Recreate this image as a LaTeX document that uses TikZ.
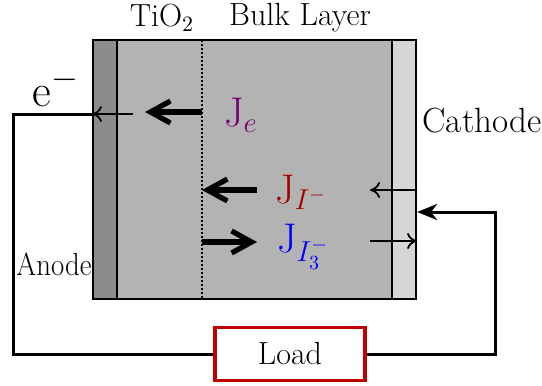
\documentclass[tikz,border=0pt]{standalone}
\usepackage{amsmath}
\usepackage{xcolor}
\usepackage{tikz}
\usetikzlibrary{positioning,arrows.meta}
\definecolor{anodegray}{HTML}{8C8C8C}
\definecolor{bulkgray}{HTML}{B3B3B3}
\definecolor{cathgray}{HTML}{D6D6D6}
\definecolor{loadred}{HTML}{C00000}
\newcommand{\flux}[1]{\mathrm{J}_{#1}}

\begin{document}
\begin{tikzpicture}[x=0.5pt,y=-0.5pt,
  font=\fontsize{16}{19}\selectfont,
  region/.style={draw,line width=1.1pt,inner sep=0pt,minimum height=129.5pt},
  flux/.style={-{Straight Barb[length=10pt,width=11pt]},line width=2.6pt},
  fluxlbl/.style={font=\fontsize{20}{24}\selectfont},
  probe/.style={-{To[length=5pt,width=8pt]},line width=0.9pt},
  wire/.style={line width=1.5pt},
  loadbox/.style={draw=loadred,line width=1.9pt,minimum width=75pt,
                  minimum height=26.5pt,inner sep=0pt}]
\useasboundingbox (0,0) rectangle (542,386);
% cell layers
\node[region,fill=bulkgray,minimum width=137.5pt] (bulk) at (254.5,169.5) {};
\node[region,fill=anodegray,minimum width=12pt] (anode) at (105,169.5) {};
\node[region,fill=cathgray,minimum width=12pt] (cathode) at (404,169.5) {};
\draw[densely dotted,line width=1pt] (202,40) -- (202,299);
% labels
\node (tio) at (162,18) {TiO$_2$};
\node (bulklbl) at (300,18) {Bulk Layer};
\node[font=\fontsize{23}{27}\selectfont] (elec) at (56,88) {e$^-$};
\node[font=\fontsize{17.5}{21}\selectfont] (cathlbl) at (482,121) {Cathode};
\node[xscale=0.9] (anodelbl) at (54,264) {Anode};
% fluxes
\node[fluxlbl,text=violet!90!black] (je) at (241,115) {$\flux{e}$};
\node[fluxlbl,text=red!65!black] (ji) at (301,192) {$\flux{I^-}$};
\node[fluxlbl,text=blue] (jt) at (303,247) {$\flux{I_3^-}$};
\draw[flux] (202,112) -- (145,112);
\draw[flux] (257,190) -- (202,190);
\draw[flux] (202,242) -- (257,242);
\draw[probe] (133,114) -- (anode.west |- 0,114);
\draw[probe] (cathode.east |- 0,190) -- (370,190);
\draw[probe] (370,241) -- (cathode.east |- 0,241);
% external circuit
\node[loadbox] (load) at (290,354) {Load};
\coordinate (tl) at (13,114);
\coordinate (tr) at (495,212);
\draw[wire] (anode.west |- tl) -- (tl) |- (load.west);
\draw[wire,-{Stealth[length=10pt,width=8pt,inset=3pt]}] (load.east) -| (tr)
  -- (cathode.east |- tr);
\end{tikzpicture}
\end{document}
